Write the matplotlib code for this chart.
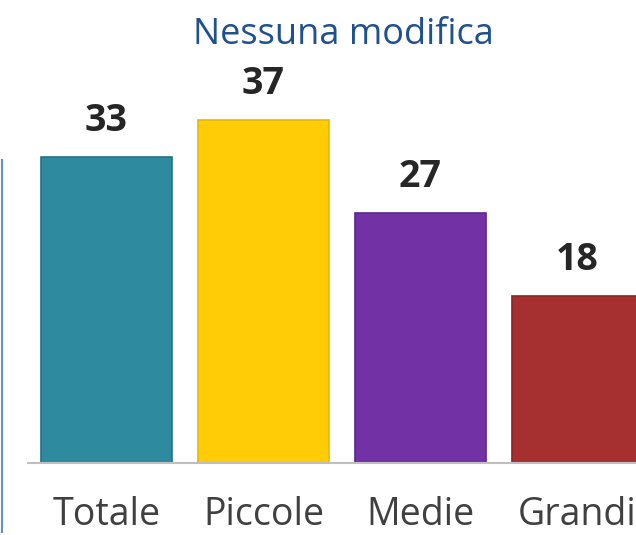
import matplotlib
matplotlib.use("Agg")
import matplotlib.pyplot as plt
from matplotlib.lines import Line2D

# data
categories = ['Totale', 'Piccole', 'Medie', 'Grandi']
values = [33, 37, 27, 18]
title = 'Nessuna modifica'

bar_colors = ['#2E8A9E', '#FFCC05', '#7232A6', '#A5302F']
edge_colors = ['#257386', '#E8B800', '#5E2590', '#8C2526']

plt.rcParams['font.family'] = ['Open Sans', 'DejaVu Sans']

fig = plt.figure(figsize=(6.36, 5.35), dpi=100)
# axes in pixels: left 28, right 636, bottom baseline at 463 from top
ax = fig.add_axes([28 / 636, 72 / 535, 608 / 636, 463 / 535])

x = list(range(len(categories)))
ax.bar(x, values, width=0.834, color=bar_colors, edgecolor=edge_colors,
       linewidth=1.2, zorder=2)

ax.set_xlim(-0.5, 3.373)
ax.set_ylim(0, 50)

for i, v in enumerate(values):
    ax.annotate(str(v), xy=(i, v), xytext=(0, 26), textcoords='offset points',
                ha='center', va='center', fontsize=27, fontweight='bold',
                color='#262626')

ax.set_xticks(x)
ax.set_xticklabels(categories, fontsize=27, color='#404040')
ax.tick_params(axis='x', length=0, pad=24)
ax.set_yticks([])

for s in ['top', 'right', 'left']:
    ax.spines[s].set_visible(False)
ax.spines['bottom'].set_color('#BFBFBF')
ax.spines['bottom'].set_linewidth(1.5)
ax.spines['bottom'].set_zorder(3)

fig.text(343 / 636, 1 - 35 / 535, title, ha='center', va='center',
         fontsize=26, color='#1F508F')

# faint blue line at the left edge
fig.add_artist(Line2D([1.5 / 636, 1.5 / 636], [1 - 532 / 535, 1 - 160 / 535],
                      transform=fig.transFigure, color='#4472C4',
                      linewidth=1.5, alpha=0.8))

fig.savefig('out.png', dpi=100)
